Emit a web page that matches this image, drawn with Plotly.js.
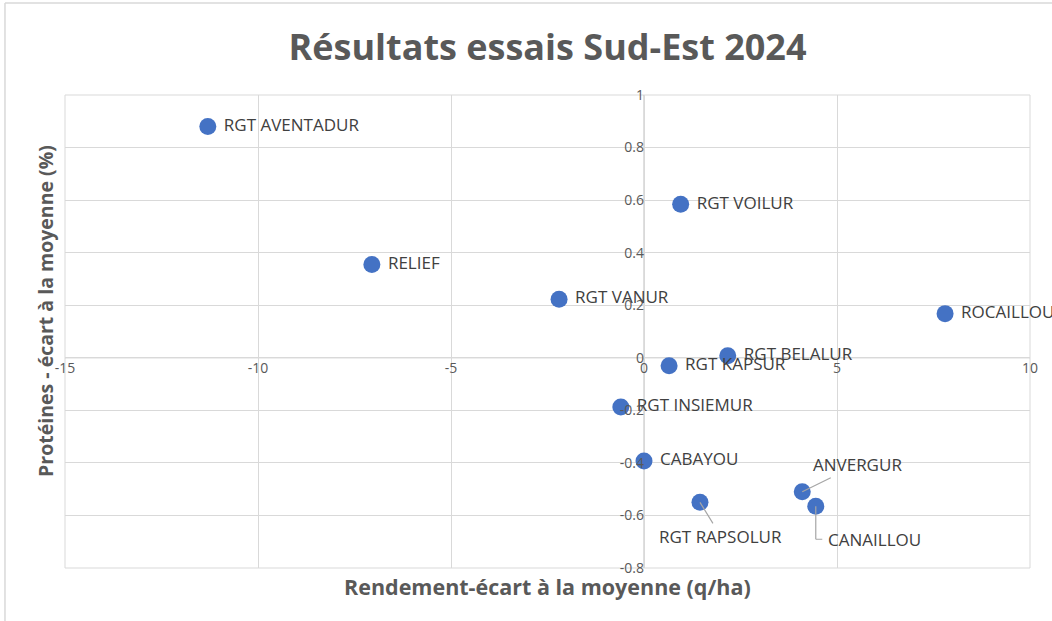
<!DOCTYPE html>
<html>
<head>
<meta charset="utf-8">
<script src="https://cdn.plot.ly/plotly-3.0.1.min.js"></script>
<style>html,body{margin:0;padding:0;background:#fff;}#chart{width:1052px;height:621px;}</style>
</head>
<body>
<div id="chart"></div>
<script>
const varieties = ['RGT AVENTADUR','RELIEF','RGT VANUR','RGT VOILUR','ROCAILLOU','RGT BELALUR','RGT KAPSUR','RGT INSIEMUR','CABAYOU','RGT RAPSOLUR','ANVERGUR','CANAILLOU'];
const rendement = [-11.3, -7.05, -2.2, 0.95, 7.8, 2.17, 0.65, -0.6, 0.0, 1.45, 4.1, 4.45];
const proteines = [0.88, 0.355, 0.223, 0.584, 0.168, 0.008, -0.03, -0.187, -0.393, -0.55, -0.51, -0.565];
const xTicks = [-15, -10, -5, 0, 5, 10];
const yTicks = [-0.8, -0.6, -0.4, -0.2, 0, 0.2, 0.4, 0.6, 0.8, 1];
const leaderLabels = ['RGT RAPSOLUR', 'ANVERGUR', 'CANAILLOU'];

const labelFont = {family: 'Open Sans, sans-serif', size: 17, color: '#404040'};
const gray = '#595959';

const trace = {
  type: 'scatter',
  mode: 'markers+text',
  x: rendement,
  y: proteines,
  text: varieties.map(n => leaderLabels.includes(n) ? '' : ' ' + n),
  textposition: 'middle right',
  textfont: labelFont,
  marker: {color: '#4472C4', size: 17},
  hoverinfo: 'skip',
  cliponaxis: false
};

function idx(n){ return varieties.indexOf(n); }
const iR = idx('RGT RAPSOLUR'), iA = idx('ANVERGUR'), iC = idx('CANAILLOU');
const lineCol = '#a6a6a6';

const annotations = [
  {x: rendement[iR], y: proteines[iR], xref: 'x', yref: 'y', text: 'RGT RAPSOLUR', font: labelFont,
   showarrow: true, arrowhead: 0, arrowwidth: 1.2, arrowcolor: lineCol, ax: 21, ay: 34},
  {x: rendement[iA], y: proteines[iA], xref: 'x', yref: 'y', text: 'ANVERGUR', font: labelFont,
   showarrow: true, arrowhead: 0, arrowwidth: 1.2, arrowcolor: lineCol, ax: 55, ay: -27},
  {x: rendement[iC], y: proteines[iC], xref: 'x', yref: 'y', text: 'CANAILLOU', font: labelFont,
   xanchor: 'left', borderpad: 11,
   showarrow: true, arrowhead: 0, arrowwidth: 1.2, arrowcolor: lineCol, ax: 0, ay: 33},
  {x: rendement[iC], y: proteines[iC], xref: 'x', yref: 'y', text: '', yshift: -33,
   showarrow: true, arrowhead: 0, arrowwidth: 1.2, arrowcolor: lineCol, ax: 8, ay: 0},
  {x: 0.5, y: -0.04, xref: 'paper', yref: 'paper', text: '<b>Rendement-écart à la moyenne (q/ha)</b>',
   showarrow: false, yanchor: 'middle', font: {family: 'Open Sans, sans-serif', size: 21.5, color: gray}},
  {x: -0.021, y: 0.543, xref: 'paper', yref: 'paper', text: '<b>Protéines - écart à la moyenne (%)</b>',
   showarrow: false, textangle: -90, xanchor: 'center', yanchor: 'middle',
   font: {family: 'Open Sans, sans-serif', size: 19.5, color: gray}}
];

const layout = {
  width: 1052, height: 621,
  margin: {l: 65, r: 22, t: 95, b: 53},
  paper_bgcolor: '#fff', plot_bgcolor: '#fff',
  showlegend: false,
  title: {text: '<b>Résultats essais Sud-Est 2024</b>', x: 0.5, xref: 'paper', xanchor: 'center',
          y: 0.923, yanchor: 'middle', font: {family: 'Open Sans, sans-serif', size: 36, color: gray}},
  xaxis: {
    range: [-15, 10], tickvals: xTicks, ticktext: xTicks.map(String),
    anchor: 'free', position: 0.4444,
    showgrid: true, gridcolor: '#d9d9d9', gridwidth: 1,
    zeroline: false, showline: false, ticks: '',
    tickfont: {family: 'Open Sans, sans-serif', size: 14, color: gray},
    fixedrange: true
  },
  yaxis: {
    range: [-0.8, 1], tickvals: yTicks, ticktext: yTicks.map(String),
    anchor: 'free', position: 0.6,
    showgrid: true, gridcolor: '#d9d9d9', gridwidth: 1,
    zeroline: false, showline: false, ticks: '',
    tickfont: {family: 'Open Sans, sans-serif', size: 14, color: gray},
    fixedrange: true
  },
  shapes: [
    {type: 'rect', xref: 'paper', yref: 'paper', x0: 0, x1: 1, y0: 0, y1: 1, line: {color: '#d9d9d9', width: 1}, layer: 'below'},
    {type: 'line', xref: 'x', yref: 'paper', x0: 0, x1: 0, y0: 0, y1: 1, line: {color: '#bfbfbf', width: 1}, layer: 'below'},
    {type: 'line', xref: 'paper', yref: 'y', x0: 0, x1: 1, y0: 0, y1: 0, line: {color: '#bfbfbf', width: 1}, layer: 'below'},
    {type: 'line', xref: 'paper', yref: 'paper', x0: -0.0622, x1: -0.0622, y0: -0.2, y1: 1.1945, line: {color: '#d9d9d9', width: 1.5}},
    {type: 'line', xref: 'paper', yref: 'paper', x0: -0.0622, x1: 1.1, y0: 1.1945, y1: 1.1945, line: {color: '#d9d9d9', width: 1.5}}
  ],
  annotations: annotations
};

Plotly.newPlot('chart', [trace], layout, {displayModeBar: false, staticPlot: true});
</script>
</body>
</html>
